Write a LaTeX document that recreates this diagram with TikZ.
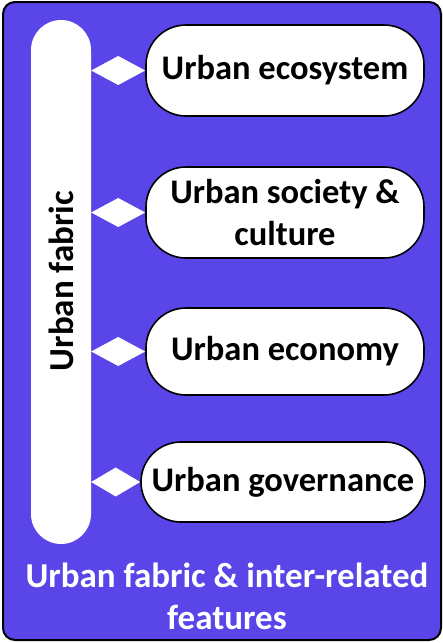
\documentclass[tikz,border=0pt]{standalone}
\usepackage{fontspec}
\setmainfont{Carlito}
\usetikzlibrary{arrows.meta,calc}
\definecolor{bgpurple}{HTML}{5A45E8}
\tikzset{
  featbox/.style={draw=black, line width=1.6pt, fill=white, rounded corners=40pt,
    minimum width=278pt, align=center, inner sep=0pt,
    font=\fontsize{34.5}{42}\selectfont\bfseries},
  link/.style={fill=white}
}
\begin{document}
\begin{tikzpicture}[x=1pt,y=-1pt]
\useasboundingbox (0,0) rectangle (443,643);
\draw[black, line width=2pt, fill=bgpurple, rounded corners=12pt] (3,2) rectangle (441,640);
\node[fill=white, rounded corners=30pt, minimum width=60pt, minimum height=524pt, inner sep=0pt] (bar) at (61,282) {};
\node[rotate=90, font=\fontsize{35}{36}\selectfont\bfseries] (barlabel) at (61,281) {Urban fabric};
\node[featbox, minimum height=91pt] (eco) at (285,70.5) {Urban ecosystem};
\node[featbox, minimum height=91pt] (soc) at (285,212.5) {Urban society \&\\culture};
\node[featbox, minimum height=87pt] (econ) at (285,351.5) {Urban economy};
\node[featbox, minimum height=80pt, minimum width=284pt] (gov) at (283,482) {Urban governance};
\foreach \b in {eco,soc,econ,gov}{
  \coordinate (s\b) at (bar.east |- \b.west);
  \path[link] (s\b) -- ($(s\b)!0.5!(\b.west)+(0,-14.5)$) -- (\b.west) -- ($(s\b)!0.5!(\b.west)+(0,14.5)$) -- cycle;
}
\node[text=white, align=center, font=\fontsize{35}{42}\selectfont\bfseries] (title) at (227,596) {Urban fabric \& inter-related\\features};
\end{tikzpicture}
\end{document}
